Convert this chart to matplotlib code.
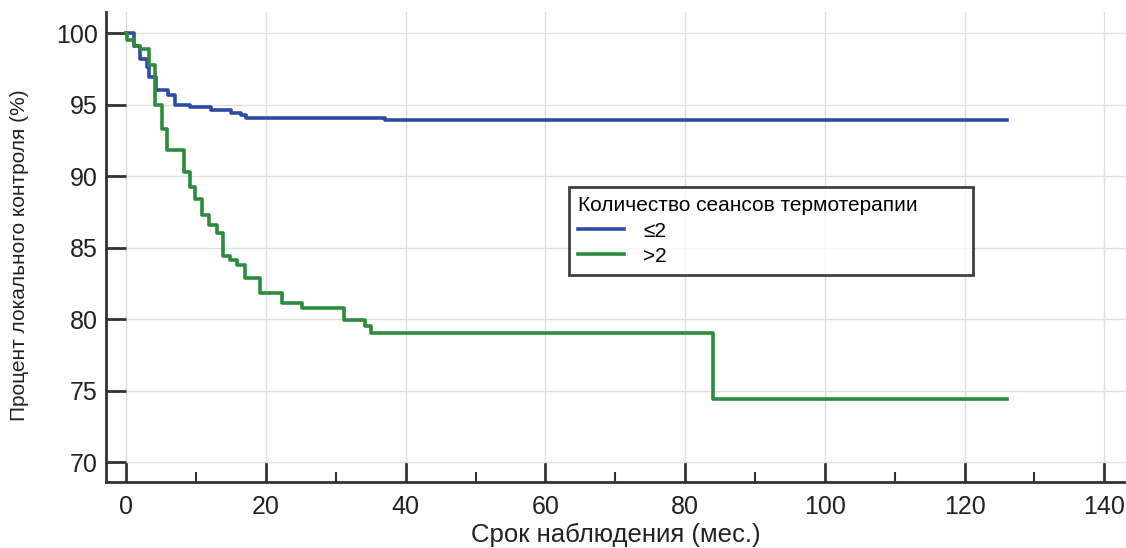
import matplotlib.pyplot as plt
from matplotlib.ticker import MultipleLocator

plt.rcParams['font.family'] = ['Liberation Sans', 'DejaVu Sans']

# Кривые Каплана-Мейера: время (мес.) и процент локального контроля
t_le2 = [0, 1.1, 2.0, 3.0, 3.3, 4.3, 6.0, 7.0, 9.2, 12.1, 15.0, 16.5, 17.2, 37.0, 126.0]
s_le2 = [100, 99.1, 98.2, 97.6, 96.9, 96.0, 95.7, 95.0, 94.8, 94.6, 94.4, 94.3, 94.05, 93.9, 93.9]

t_gt2 = [0, 0.1, 1.05, 2.0, 3.2, 4.1, 5.1, 5.9, 8.2, 9.2, 9.9, 10.8, 11.8, 13.0, 13.9,
         14.9, 15.8, 17.0, 19.2, 22.3, 25.1, 31.1, 34.2, 35.1, 84.0, 126.0]
s_gt2 = [100, 99.5, 99.1, 98.9, 97.8, 95.0, 93.3, 91.8, 90.3, 89.25, 88.4, 87.3, 86.6, 86.0, 84.4,
         84.1, 83.8, 82.9, 81.85, 81.15, 80.75, 79.95, 79.5, 79.05, 74.4, 74.4]

labels = ['≤2', '>2']
colors = ['#2b4ba6', '#2a8c3c']

fig = plt.figure(figsize=(11.26, 5.48), dpi=100)
ax = fig.add_axes([0.0941, 0.1204, 0.9059, 0.8576])

ax.step(t_le2, s_le2, where='post', color=colors[0], lw=2.6, label=labels[0])
ax.step(t_gt2, s_gt2, where='post', color=colors[1], lw=2.6, label=labels[1])

ax.set_xlim(-2.9, 143.1)
ax.set_ylim(68.6, 101.47)
ax.xaxis.set_major_locator(MultipleLocator(20))
ax.xaxis.set_minor_locator(MultipleLocator(10))
ax.yaxis.set_major_locator(MultipleLocator(5))

ax.grid(True, which='major', color='#dadfe4', lw=1)
ax.set_axisbelow(True)

for side in ['top', 'right']:
    ax.spines[side].set_visible(False)
for side in ['left', 'bottom']:
    ax.spines[side].set_color('#333333')
    ax.spines[side].set_linewidth(2)

ax.tick_params(axis='both', which='major', direction='in', length=14.5, width=2,
               color='#333333', labelsize=18, labelcolor='#222222', pad=6)
ax.tick_params(axis='x', which='minor', direction='in', length=7, width=1.5, color='#333333')
ax.tick_params(axis='x', which='major', pad=9)

ax.set_xlabel('Срок наблюдения (мес.)', fontsize=18.5, color='#222222', labelpad=3)
ax.set_ylabel('Процент локального контроля (%)', fontsize=15, color='#222222')
ax.yaxis.set_label_coords(-0.075, 0.483)

leg = ax.legend(title='Количество сеансов термотерапии', loc='upper left',
                bbox_to_anchor=(0.454, 0.448, 0.396, 0.18), mode='expand',
                fontsize=15, title_fontsize=15, alignment='left',
                frameon=True, fancybox=False, handlelength=2.2, borderaxespad=0,
                labelspacing=0.3, borderpad=0.45, handletextpad=0.9)
leg.get_frame().set_edgecolor('#111111')
leg.get_frame().set_linewidth(2)

fig.savefig('out.png', dpi=100)
